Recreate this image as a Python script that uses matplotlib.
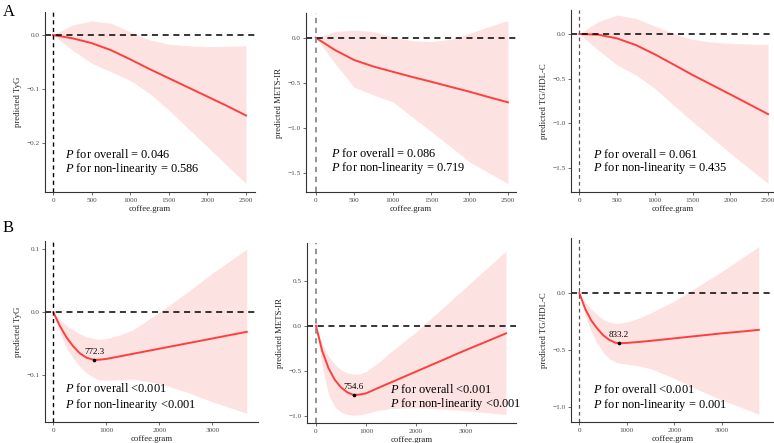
import matplotlib
matplotlib.use("Agg")
import matplotlib.pyplot as plt
from matplotlib.ticker import FuncFormatter

plt.rcParams['font.family'] = ['Liberation Serif', 'DejaVu Serif']
plt.rcParams['mathtext.fontset'] = 'custom'
plt.rcParams['mathtext.rm'] = 'Liberation Serif'
plt.rcParams['mathtext.it'] = 'Liberation Serif:italic'

# ---- row A: linear-ish fits, coffee 0-2500 g ----
xa = [0, 250, 500, 750, 1000, 1250, 1500, 1750, 2000, 2250, 2500]

tyg_a_fit = [0, -0.006, -0.015, -0.028, -0.045, -0.063, -0.080, -0.097, -0.114, -0.131, -0.149]
tyg_a_hi = [0, 0.0185, 0.026, 0.022, 0.006, -0.009, -0.017, -0.020, -0.0215, -0.021, -0.020]
tyg_a_lo = [0, -0.028, -0.052, -0.068, -0.084, -0.108, -0.139, -0.173, -0.207, -0.241, -0.275]

mets_a_fit = [0, -0.137, -0.248, -0.32, -0.378, -0.435, -0.489, -0.545, -0.60, -0.66, -0.718]
mets_a_hi = [0, 0.067, 0.085, 0.067, 0.011, -0.033, -0.044, -0.019, 0.048, 0.122, 0.19]
mets_a_lo = [0, -0.285, -0.55, -0.637, -0.711, -0.878, -1.04, -1.21, -1.378, -1.50, -1.62]

tg_a_fit = [0, -0.007, -0.049, -0.124, -0.228, -0.343, -0.46, -0.569, -0.678, -0.789, -0.90]
tg_a_hi = [0, 0.139, 0.213, 0.176, 0.09, 0.007, -0.06, -0.09, -0.105, -0.112, -0.116]
tg_a_lo = [0, -0.18, -0.348, -0.46, -0.61, -0.80, -0.985, -1.16, -1.34, -1.51, -1.678]

# ---- row B: U-shaped fits ----
xb_tyg = [0, 125, 250, 375, 500, 625, 772.3, 875, 1000, 1250, 1500, 2000, 2500, 3000, 3650]
tyg_b_fit = [0, -0.022, -0.040, -0.054, -0.065, -0.072, -0.0757, -0.0752, -0.074, -0.070,
             -0.0659, -0.0578, -0.0497, -0.0416, -0.031]
tyg_b_hi = [0, -0.012, -0.021, -0.028, -0.034, -0.039, -0.042, -0.043, -0.042, -0.036,
            -0.028, 0.0, 0.03, 0.062, 0.10]
tyg_b_lo = [0, -0.033, -0.057, -0.073, -0.086, -0.096, -0.104, -0.107, -0.108, -0.107,
            -0.106, -0.113, -0.126, -0.142, -0.16]

xb_mets = [0, 125, 250, 375, 500, 625, 754.6, 875, 1000, 1250, 1500, 2000, 2500, 3000, 3500, 3800]
mets_b_fit = [0, -0.28, -0.47, -0.60, -0.685, -0.74, -0.77, -0.765, -0.752, -0.69,
              -0.63, -0.51, -0.39, -0.27, -0.155, -0.085]
mets_b_hi = [0, -0.20, -0.34, -0.43, -0.49, -0.525, -0.54, -0.535, -0.51, -0.41,
             -0.29, -0.07, 0.18, 0.43, 0.68, 0.83]
mets_b_lo = [0, -0.45, -0.76, -0.90, -0.96, -0.985, -0.995, -0.99, -0.975, -0.94,
             -0.92, -0.91, -0.925, -0.945, -0.97, -0.985]

xb_tg = [0, 125, 250, 375, 500, 625, 750, 833.2, 1000, 1250, 1500, 2000, 2500, 3000, 3500, 3780]
tg_b_fit = [0, -0.14, -0.24, -0.31, -0.37, -0.41, -0.435, -0.442, -0.438, -0.43,
            -0.42, -0.398, -0.376, -0.354, -0.335, -0.323]
tg_b_hi = [0, -0.08, -0.14, -0.19, -0.23, -0.255, -0.265, -0.266, -0.255, -0.22,
           -0.175, -0.07, 0.06, 0.19, 0.33, 0.41]
tg_b_lo = [0, -0.20, -0.34, -0.44, -0.52, -0.575, -0.605, -0.615, -0.625, -0.64,
           -0.665, -0.75, -0.85, -0.94, -1.02, -1.065]

W, H = 774, 443
fig = plt.figure(figsize=(W / 100, H / 100), dpi=100)

RED = "#FF3E3E"
PINK = "#FDE2E2"
TICK_GREY = "#4D4D4D"


def add_panel(box, x, fit, lo, hi, xlim, ylim, xticks, yticks, ylabel, ptxt, ppos,
              vcol, vlw, knot=None):
    left, top, right, bottom = box
    ax = fig.add_axes([left / W, 1 - bottom / H, (right - left) / W, (bottom - top) / H])
    ax.fill_between(x, lo, hi, color=PINK, lw=0)
    ax.plot(x, fit, color=RED, lw=1.4)
    ax.axhline(0, color="black", lw=1.1, ls=(0, (4, 3)))
    ax.axvline(0, color=vcol, lw=vlw, ls=(0, (3, 2.5)))
    if knot is not None:
        kx, ky = knot
        ax.plot([kx], [ky], "o", color="black", ms=1.6)
        ax.annotate(f"{kx:.1f}", (kx, ky), xytext=(0, 3), textcoords="offset points",
                    ha="center", va="bottom", fontsize=6.5)
    ax.text(ppos[0], ppos[1], "$P$ for " + ptxt[0], fontsize=8.9, va="center")
    ax.text(ppos[0], ppos[2], "$P$ for " + ptxt[1], fontsize=8.9, va="center")
    ax.set_xlim(xlim)
    ax.set_ylim(ylim)
    ax.set_xticks(xticks)
    ax.set_yticks(yticks)
    ax.yaxis.set_major_formatter(FuncFormatter(lambda v, p: f"{v:.1f}".replace("-", "\u2212")))
    ax.tick_params(labelsize=5.2, colors="#333333", labelcolor=TICK_GREY, length=2, width=0.5, pad=2)
    for s in ["top", "right"]:
        ax.spines[s].set_visible(False)
    for s in ["left", "bottom"]:
        ax.spines[s].set_color("#333333")
        ax.spines[s].set_linewidth(0.8)
    ax.set_xlabel("coffee.gram", fontsize=6.3, labelpad=2, color="#222222")
    ax.set_ylabel(ylabel, fontsize=6.3, labelpad=3, color="#222222")
    return ax


xt_a = [0, 500, 1000, 1500, 2000, 2500]
xt_b = [0, 1000, 2000, 3000]

add_panel((45, 12, 255, 192), xa, tyg_a_fit, tyg_a_lo, tyg_a_hi, (-104, 2617), (-0.2907, 0.0426),
          xt_a, [0, -0.1, -0.2], "predicted TyG",
          ("overall = 0.046", "non-linearity = 0.586"), (155, -0.222, -0.248), "black", 1.0)
add_panel((306, 13, 516, 192), xa, mets_a_fit, mets_a_lo, mets_a_hi, (-126, 2605), (-1.714, 0.274),
          xt_a, [0, -0.5, -1.0, -1.5], "predicted METS-IR",
          ("overall = 0.086", "non-linearity = 0.719"), (195, -1.29, -1.45), "#8C8C8C", 1.3)
add_panel((571, 10, 774, 192), xa, tg_a_fit, tg_a_lo, tg_a_hi, (-110, 2579), (-1.775, 0.27),
          xt_a, [0, -0.5, -1.0, -1.5], "predicted TG/HDL-C",
          ("overall = 0.061", "non-linearity = 0.435"), (185, -1.35, -1.51), "#555555", 0.9)

add_panel((45, 241, 258, 422), xb_tyg, tyg_b_fit, tyg_b_lo, tyg_b_hi, (-157, 3862), (-0.174, 0.113),
          xt_b, [0.1, 0, -0.1], "predicted TyG",
          ("overall <0.001", "non-linearity <0.001"), (220, -0.121, -0.147), "black", 1.0,
          knot=(772.3, -0.0757))
add_panel((307, 243, 516, 423), xb_mets, mets_b_fit, mets_b_lo, mets_b_hi, (-179, 4000), (-1.081, 0.919),
          xt_b, [0.5, 0, -0.5, -1.0], "predicted METS-IR",
          ("overall <0.001", "non-linearity <0.001"), (1490, -0.714, -0.873), "#8C8C8C", 1.3,
          knot=(754.6, -0.77))
add_panel((571, 238, 774, 422), xb_tg, tg_b_fit, tg_b_lo, tg_b_hi, (-176, 4100), (-1.134, 0.485),
          xt_b, [0, -0.5, -1.0], "predicted TG/HDL-C",
          ("overall <0.001", "non-linearity = 0.001"), (287, -0.851, -0.982), "#555555", 0.9,
          knot=(833.2, -0.442))

fig.text(3 / W, 1 - 12 / H, "A", fontsize=12, va="center", ha="left")
fig.text(3 / W, 1 - 228 / H, "B", fontsize=12, va="center", ha="left")

fig.savefig("out.png", dpi=100)
